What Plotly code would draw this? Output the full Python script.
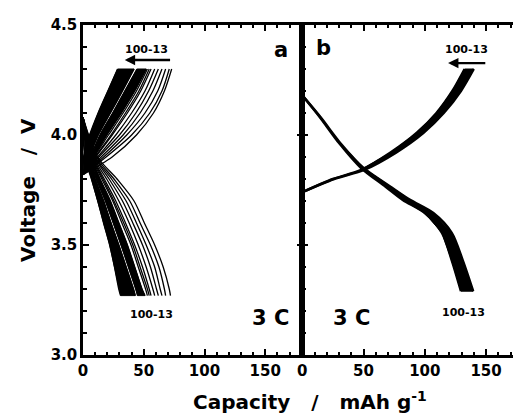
import plotly.graph_objects as go

# ---------------- data ----------------
# Panel a: charge curves, capacity (mAh/g) read at these voltages
V_CHG_A = [3.82, 3.90, 4.00, 4.10, 4.20, 4.30]
CHG_A_BAND_LOW = [0, 0.5, 5.5, 12.5, 20.5, 28.5]     # cycle 100 edge of dense band
CHG_A_BAND_HIGH = [0, 5, 12.5, 22.5, 32.5, 42]       # other edge of dense band
CHG_A_BAND2_LOW = [0, 6, 14, 24.5, 34.5, 44.5]       # second dense group
CHG_A_BAND2_HIGH = [0, 8.5, 19.5, 31.5, 42.5, 52]
CHG_A_LINES = [
    [0, 9, 21, 33, 44, 53],
    [0, 10, 23, 35, 46, 54.5],
    [0, 10.5, 24, 36.5, 47.5, 56],
    [0, 12, 27, 40, 51, 59],
    [0, 13, 30, 43.5, 54, 62],
    [0, 15, 33, 47, 57.5, 65],
    [0, 17, 36, 51, 61.5, 68],
    [0, 19, 40, 55, 65, 71],
    [0, 24, 44, 58, 67, 73],
]

# Panel a: discharge curves
V_DIS_A = [4.08, 3.90, 3.80, 3.70, 3.60, 3.50, 3.40, 3.30, 3.27]
DIS_A_BAND_LOW = [0, 1.5, 7, 12.3, 17, 22, 26, 29.5, 31]
DIS_A_BAND_HIGH = [0, 5, 10, 17, 23, 29.5, 35.5, 41.5, 43]
DIS_A_BAND2_LOW = [0, 5.5, 11, 18.5, 25, 31.5, 37.5, 43.5, 45]
DIS_A_BAND2_HIGH = [0, 6.5, 14, 22.5, 29.5, 36.5, 42.5, 48.5, 51]
DIS_A_LINES = [
    [0, 7, 15.5, 24.5, 32, 39.5, 45.5, 51.5, 53],
    [0, 7.5, 16.5, 25.5, 33.5, 41, 47, 53, 54.5],
    [0, 8, 17.5, 27, 35, 42.5, 49, 54.5, 56],
    [0, 8.5, 19.5, 29.5, 38, 45.5, 52, 57.5, 59],
    [0, 9.5, 21.5, 32.5, 41, 49, 55.5, 60.5, 62],
    [0, 10, 23.5, 35.5, 44, 52, 59, 63.5, 65],
    [0, 11, 25.5, 38.5, 47, 55.5, 62.5, 67, 68],
    [0, 12, 28, 42, 50.5, 59, 66, 71, 72],
]

# Panel b: charge band (cycle 100 and cycle 13 edges)
V_CHG_B = [3.74, 3.80, 3.84, 3.92, 4.01, 4.10, 4.20, 4.30]
CHG_B_LOW = [0, 25, 47.5, 72, 93.5, 109.5, 122.5, 132.5]
CHG_B_HIGH = [0, 26, 50, 76.5, 99, 115.5, 129.5, 140]

# Panel b: discharge band
V_DIS_B = [4.18, 4.08, 3.96, 3.85, 3.765, 3.705, 3.645, 3.555, 3.43, 3.29]
DIS_B_LOW = [0, 14.5, 30.5, 48, 68, 82, 100, 114, 122, 129.5]
DIS_B_HIGH = [0, 15, 31.5, 50, 72, 88, 107, 122, 131, 139.5]

X_TICKS = [0, 50, 100, 150]
Y_TICKS = [3.0, 3.5, 4.0, 4.5]
CYCLE_LABEL = "100-13"
RATE_LABEL = "3 C"

# ---------------- figure ----------------
FONT = "DejaVu Sans"
fig = go.Figure()


def band(xl, xh, v, xa, ya):
    fig.add_trace(go.Scatter(
        x=list(xl) + list(xh)[::-1], y=list(v) + list(v)[::-1],
        mode="lines", fill="toself", fillcolor="black",
        line=dict(color="black", width=1),
        xaxis=xa, yaxis=ya, showlegend=False, hoverinfo="skip"))


def line(xs, v, xa, ya, w=1.3):
    fig.add_trace(go.Scatter(
        x=xs, y=v, mode="lines",
        line=dict(color="black", width=w, shape="spline", smoothing=0.8),
        xaxis=xa, yaxis=ya, showlegend=False, hoverinfo="skip"))


for lo, hi, v in [(CHG_A_BAND_LOW, CHG_A_BAND_HIGH, V_CHG_A),
                  (CHG_A_BAND2_LOW, CHG_A_BAND2_HIGH, V_CHG_A),
                  (DIS_A_BAND_LOW, DIS_A_BAND_HIGH, V_DIS_A),
                  (DIS_A_BAND2_LOW, DIS_A_BAND2_HIGH, V_DIS_A)]:
    band(lo, hi, v, "x", "y")
    line(lo, v, "x", "y", 1.5)
    line(hi, v, "x", "y", 1.5)
for c in CHG_A_LINES:
    line(c, V_CHG_A, "x", "y")
for c in DIS_A_LINES:
    line(c, V_DIS_A, "x", "y")

for lo, hi, v in [(CHG_B_LOW, CHG_B_HIGH, V_CHG_B), (DIS_B_LOW, DIS_B_HIGH, V_DIS_B)]:
    band(lo, hi, v, "x2", "y2")
    line(lo, v, "x2", "y2", 2.5)
    line(hi, v, "x2", "y2", 2.5)

tickfont = dict(family=FONT, size=15, color="black", weight="bold")
minor_x = dict(dtick=10, ticks="inside", ticklen=3, tickwidth=1.5, tickcolor="black")
minor_y = dict(dtick=0.1, ticks="inside", ticklen=4, tickwidth=1.5, tickcolor="black")

D = 0.51
common_x = dict(showline=True, linecolor="black", linewidth=2.5, mirror="ticks",
                ticks="inside", ticklen=6, tickwidth=2, tickcolor="black",
                tickvals=X_TICKS, tickfont=tickfont, showgrid=False, zeroline=False,
                minor=minor_x, automargin=False)
fig.update_layout(
    width=513, height=414,
    margin=dict(l=83, r=0, t=25, b=59, autoexpand=False),
    paper_bgcolor="white", plot_bgcolor="white",
    xaxis=dict(domain=[0, D], range=[0, 180.5], anchor="y", **common_x),
    xaxis2=dict(domain=[D, 1], range=[0, 172], anchor="y2", **common_x),
    yaxis=dict(domain=[0, 1], range=[3.0, 4.5], anchor="x", showline=True,
               linecolor="black", linewidth=2.5, mirror="ticks", ticks="inside",
               ticklen=6, tickwidth=2, tickcolor="black", tickvals=Y_TICKS,
               tickformat=".1f", tickfont=tickfont, showgrid=False, zeroline=False,
               minor=minor_y, automargin=False),
    yaxis2=dict(domain=[0, 1], range=[3.0, 4.5], anchor="x2", showline=True,
                linecolor="black", linewidth=2.5, mirror=False, ticks="inside",
                ticklen=6, tickwidth=2, tickcolor="black", tickvals=Y_TICKS,
                showticklabels=False, showgrid=False, zeroline=False,
                minor=minor_y, automargin=False),
)

big = dict(family=FONT, size=21, color="black", weight="bold")
small = dict(family=FONT, size=11, color="black", weight="bold")
title_font = dict(family=FONT, size=20, color="black", weight="bold")

anns = [
    dict(x=163, y=4.386, xref="x", yref="y", text="a", font=big),
    dict(x=17.7, y=4.395, xref="x2", yref="y2", text="b", font=big),
    dict(x=154.3, y=3.166, xref="x", yref="y", text=RATE_LABEL, font=big),
    dict(x=40.2, y=3.166, xref="x2", yref="y2", text=RATE_LABEL, font=big),
    dict(x=52.1, y=4.39, xref="x", yref="y", text=CYCLE_LABEL, font=small),
    dict(x=56.4, y=3.182, xref="x", yref="y", text=CYCLE_LABEL, font=small),
    dict(x=134.2, y=4.389, xref="x2", yref="y2", text=CYCLE_LABEL, font=small),
    dict(x=131.7, y=3.191, xref="x2", yref="y2", text=CYCLE_LABEL, font=small),
    dict(x=34.4, y=4.341, ax=72.9, ay=4.341, xref="x", yref="y", axref="x", ayref="y",
         text="", showarrow=True, arrowhead=2, arrowsize=0.9, arrowwidth=2.3, arrowcolor="black"),
    dict(x=119, y=4.327, ax=150.6, ay=4.327, xref="x2", yref="y2", axref="x2", ayref="y2",
         text="", showarrow=True, arrowhead=2, arrowsize=0.9, arrowwidth=2.3, arrowcolor="black"),
    dict(x=-0.128, y=0.5, xref="paper", yref="paper", textangle=-90,
         text="Voltage\u00a0\u00a0\u00a0/\u00a0\u00a0V", font=title_font),
    dict(x=0.528, y=-0.139, xref="paper", yref="paper",
         text="Capacity\u00a0\u00a0\u00a0/\u00a0\u00a0\u00a0mAh g<sup>-1</sup>", font=title_font),
]
for a in anns:
    a.setdefault("showarrow", False)
    a.setdefault("xanchor", "center")
    a.setdefault("yanchor", "middle")
fig.update_layout(annotations=anns)

fig.write_html("out.html", config={"displayModeBar": False},
               post_script="document.body.style.margin='0px';document.body.style.padding='0px';")
